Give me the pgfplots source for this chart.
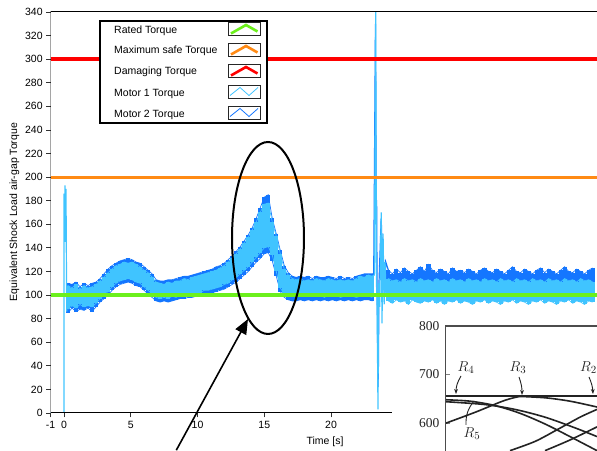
\documentclass[border=0pt]{standalone}
\usepackage{fontspec}
\setmainfont{Liberation Sans}
\newfontfamily\serif{Liberation Serif}
\usepackage{pgfplots}
\pgfplotsset{compat=1.18}
\usepackage{pgfplotstable}
\usetikzlibrary{arrows.meta,calc}

\definecolor{mlight}{RGB}{64,196,255}
\definecolor{mdark}{RGB}{20,118,255}
\definecolor{rgreen}{RGB}{108,240,28}
\definecolor{sorange}{RGB}{255,138,20}
\definecolor{dred}{RGB}{255,0,0}
\definecolor{inkgrey}{RGB}{35,35,35}

% t  l1(light low) u1(light up) l2(dark low) u2(dark up)
\pgfplotstableread{
t l1 u1 l2 u2
0.3 88 108 85 110
0.6 91 106 89 109
0.9 89 109 86 111
1.2 92 105 88 107
1.5 90 108 87 110
1.8 91 106 89 108
2.1 90 107 86 110
2.4 93 109 90 111
2.7 97 112 94 114
3.0 100 115 97 118
3.3 103 119 100 122
3.6 107 122 104 125
3.9 110 125 107 127
4.2 112 126 109 129
4.5 113 128 110 130
4.8 114 127 111 131
5.1 113 128 110 130
5.4 111 126 108 128
5.7 110 124 107 127
6.0 107 121 104 124
6.3 104 119 101 121
6.6 101 115 98 118
6.9 98 111 95 113
7.2 97 110 94 112
7.5 98 109 95 112
7.8 97 111 94 113
8.1 99 110 95 113
8.4 98 112 96 114
8.7 100 112 97 115
9.0 100 114 97 116
9.3 101 113 98 116
9.6 101 115 98 117
9.9 102 116 99 118
10.2 102 117 99 119
10.5 104 118 101 120
10.8 104 119 101 121
11.1 105 120 102 122
11.4 106 121 103 124
11.7 107 123 104 125
12.0 109 125 105 127
12.3 110 128 107 130
12.6 113 131 109 133
12.9 115 135 111 137
13.2 118 139 114 141
13.5 121 144 117 146
13.8 124 149 120 151
14.1 128 155 124 157
14.4 132 162 128 165
14.7 136 170 131 174
15.0 140 177 135 183
15.3 141 178 136 185
15.6 134 162 129 165
15.9 120 150 116 152
16.2 106 135 103 138
16.5 101 122 98 125
16.8 99 117 96 119
17.1 99 114 95 116
17.4 100 113 95 115
17.7 99 114 96 116
18.0 100 112 95 115
18.3 99 113 96 116
18.6 100 112 95 114
18.9 99 114 96 116
19.2 100 113 95 115
19.5 98 112 96 115
19.8 100 114 95 116
20.1 99 113 96 115
20.4 100 112 95 114
20.7 98 113 96 116
21.0 99 112 95 114
21.3 100 113 96 115
21.6 99 112 95 114
21.9 98 114 96 116
22.2 99 116 95 117
22.5 100 115 96 118
22.8 99 117 96 118
23.1 98 116 95 118
}\pre

\pgfplotstableread{
t l1 u1 l2 u2
24.3 95 114 99 121
24.6 93 112 98 118
24.9 96 113 99 122
25.2 94 111 98 119
25.5 95 114 100 123
25.8 92 112 98 120
26.1 96 113 99 118
26.4 94 111 98 121
26.7 93 114 99 124
27.0 95 112 98 120
27.3 94 113 99 126
27.6 96 111 98 121
27.9 93 114 99 119
28.2 95 112 98 122
28.5 92 113 99 120
28.8 95 111 98 118
29.1 94 114 99 123
29.4 96 112 98 120
29.7 93 113 99 121
30.0 95 111 98 119
30.3 94 114 99 122
30.6 92 112 98 120
30.9 95 113 99 118
31.2 94 111 98 121
31.5 96 114 99 123
31.8 93 112 98 120
32.1 95 113 99 119
32.4 94 111 98 122
32.7 92 114 99 120
33.0 95 112 98 118
33.3 94 113 99 121
33.6 96 111 98 124
33.9 93 114 99 120
34.2 95 112 98 119
34.5 94 113 99 122
34.8 92 111 98 120
35.1 95 114 99 118
35.4 94 112 98 121
35.7 96 113 99 123
36.0 93 111 98 119
36.3 95 114 99 122
36.6 94 112 98 120
36.9 92 113 99 118
37.2 95 111 98 121
37.5 94 114 99 124
37.8 96 112 98 120
38.1 93 113 99 119
38.4 95 111 98 122
38.7 94 114 99 120
39.0 92 112 98 118
39.3 95 113 99 121
39.6 94 111 98 123
}\post

\pgfplotsset{
  band/.style={draw=none, mark=none, forget plot,
    error bars/.cd, y dir=minus, y explicit, error mark=none,
    error bar style={draw=#1, line width=4.1bp}},
  edge/.style={draw=#1, mark=none, line width=0.7bp, forget plot},
}

\begin{document}
\begin{tikzpicture}
\begin{axis}[
  name=main, scale only axis,
  width=546.35bp, height=401bp,
  xmin=-1, xmax=39.925, ymin=0, ymax=340,
  axis line style={draw=none},
  xtick={-1,0,5,10,15,20}, ytick={0,20,...,340},
  tick align=outside, xtick pos=left, ytick pos=left,
  major tick length=4.5bp,
  tick style={black!80, line width=0.8bp},
  tick label style={font=\fontsize{10.5bp}{12bp}\selectfont},
  /pgf/number format/assume math mode=true,
  clip=true,
]
% Motor 2 (dark) band
\addplot[band=mdark] table[x=t, y=u2, y error minus expr=\thisrow{u2}-\thisrow{l2}]{\pre};
\addplot[band=mdark] table[x=t, y=u2, y error minus expr=\thisrow{u2}-\thisrow{l2}]{\post};
\addplot[edge=mdark] table[x=t, y=u2]{\pre};
\addplot[edge=mdark] table[x=t, y=l2]{\pre};
\addplot[edge=mdark] table[x=t, y=u2]{\post};
\addplot[edge=mdark] table[x=t, y=l2]{\post};
% Motor 2 event
\addplot[mdark, line width=1.2bp] coordinates {(23.1,118)(23.2,118)(23.33,330)(23.38,186)(23.42,175)(23.45,110)(23.52,22)(23.55,39)(23.6,112)(23.76,165)(23.8,150)(23.9,140)(24.0,100)(24.1,128)(24.3,121)};
% Motor 1 (light) band
\addplot[band=mlight] table[x=t, y=u1, y error minus expr=\thisrow{u1}-\thisrow{l1}]{\pre};
\addplot[band=mlight] table[x=t, y=u1, y error minus expr=\thisrow{u1}-\thisrow{l1}]{\post};
\addplot[edge=mlight] table[x=t, y=u1]{\pre};
\addplot[edge=mlight] table[x=t, y=l1]{\pre};
\addplot[edge=mlight] table[x=t, y=u1]{\post};
\addplot[edge=mlight] table[x=t, y=l1]{\post};
% Motor 1 start and event
\addplot[mlight, line width=1.2bp] coordinates {(-1,0)(0,0)(0,186)(0.05,145)(0.08,193)(0.12,145)(0.15,190)(0.2,86)(0.3,108)};
\addplot[mlight, line width=1.2bp] coordinates {(23.1,116)(23.25,117)(23.35,340)(23.4,112)(23.45,95)(23.52,3)(23.56,110)(23.65,90)(23.76,170)(23.82,76)(23.9,152)(23.98,92)(24.05,128)(24.12,100)(24.3,114)};
% Thresholds
\addplot[rgreen, line width=3.6bp] coordinates {(-1,100)(39.925,100)};
\addplot[sorange, line width=3bp] coordinates {(-1,200)(39.925,200)};
\addplot[dred, line width=3.6bp] coordinates {(-1,300)(39.925,300)};
\draw[black, line width=1bp] (rel axis cs:1,0) -- (rel axis cs:0,0) -- (rel axis cs:0,1) -- (rel axis cs:1,1);
\coordinate (P0) at (rel axis cs:0,0);
\end{axis}

\begin{scope}[shift={(P0)}, xshift=-50.65bp, yshift=-38bp, x=1bp, y=1bp]
% picture frame (sets the page size)
\path (0,0) rectangle (597,451);
% axis titles
\node[rotate=90, font=\fontsize{10.5bp}{12bp}\selectfont] at (14.5,239) {Equivalent Shock Load air-gap Torque};
\node[font=\fontsize{10.5bp}{12bp}\selectfont] at (325,9) {Time [s]};

% legend
\draw[line width=2bp, fill=white] (100,430) rectangle (267,328);
\foreach \yy/\iy/\txt in {420.3/422/Rated Torque, 400/401/Maximum safe Torque, 379/380/Damaging Torque, 357.5/359.5/Motor 1 Torque, 336.5/338.5/Motor 2 Torque}{
  \node[anchor=west, inner sep=0pt, font=\fontsize{10.5bp}{12bp}\selectfont] at (114,\yy) {\txt};
  \draw[black!85, line width=0.8bp, fill=white] (228,\iy-6.5) rectangle (260,\iy+6.5);
}
\draw[rgreen, line width=2.6bp] (231,422-4.5) -- (246,422+4) -- (257.5,422-2.5);
\draw[sorange, line width=2.6bp] (231,401-4.5) -- (246,401+4) -- (257.5,401-2.5);
\draw[dred, line width=2.6bp] (231,380-4.5) -- (246,380+4) -- (257.5,380-2.5);
\draw[mlight, line width=0.8bp] (230,359.5-4) -- (240,359.5+4) -- (249,359.5-4) -- (258,359.5+4);
\draw[mdark, line width=0.8bp] (230,338.5-4) -- (240,338.5+4) -- (249,338.5-4) -- (258,338.5+4);

% annotation ellipse and arrow
\draw[black, line width=2bp] (268,213) ellipse [x radius=36, y radius=96];
\draw[black, line width=1.6bp, -{Triangle[length=15bp, width=12bp]}] (176.3,0.8) -- (248,132);

% inset background
\fill[white] (392,0) rectangle (597,141);
\node[text=inkgrey, font=\fontsize{15bp}{17bp}\selectfont] at (466,83) {$R_4$};
\node[text=inkgrey, font=\fontsize{15bp}{17bp}\selectfont] at (518,83) {$R_3$};
\node[text=inkgrey, font=\fontsize{15bp}{17bp}\selectfont, anchor=east, inner sep=0pt] at (597,83) {$R_2$};
\node[text=inkgrey, font=\fontsize{15bp}{17bp}\selectfont] at (472,17) {$R_5$};
\draw[inkgrey, line width=0.9bp, -{Stealth[length=5bp]}] (461,75) to[bend right=15] (456,57);
\draw[inkgrey, line width=0.9bp, -{Stealth[length=5bp]}] (519,74) to[bend left=10] (522,56);
\draw[inkgrey, line width=0.9bp, -{Stealth[length=5bp]}] (589,74) to[bend left=10] (593,57);
\draw[inkgrey, line width=0.9bp] (466,26) to[bend left=20] (474,50);
\end{scope}

\begin{axis}[
  at={($(P0)+(394.35bp,-38bp)$)}, anchor=south west, scale only axis,
  width=152bp, height=125bp,
  xmin=0, xmax=152, ymin=542.3, ymax=800,
  axis line style={draw=none},
  xtick=\empty, ytick={600,700,800},
  ytick pos=left, tick align=inside, major tick length=5bp,
  tick style={black!50, line width=0.8bp},
  yticklabel style={font=\serif\fontsize{13.5bp}{15bp}\selectfont, text=inkgrey, xshift=-2bp},
  /pgf/number format/assume math mode=true,
  clip=true,
]
\addplot[inkgrey, line width=2.2bp] coordinates {(0,656)(152,656)};
\addplot[inkgrey, line width=1.6bp, smooth] coordinates {(0,599)(30,622)(55,643)(65,650)(75,655)};
\addplot[inkgrey, line width=1.6bp, smooth] coordinates {(0,648)(25,645)(50,636)(75,620)(100,598)(125,572)(152,543)};
\addplot[inkgrey, line width=1.6bp, smooth] coordinates {(0,644)(40,638)(70,628)(100,612)(130,590)(152,572)};
\addplot[inkgrey, line width=1.6bp, smooth] coordinates {(72,655)(100,652)(125,645)(152,633)};
\addplot[inkgrey, line width=1.6bp, smooth] coordinates {(65,543)(90,562)(112,586)(135,612)(152,628)};
\addplot[inkgrey, line width=1.6bp, smooth] coordinates {(100,543)(125,565)(152,592)};
\draw[black!70, line width=1.3bp] (rel axis cs:0,0) -- (rel axis cs:0,1) -- (rel axis cs:1,1);
\end{axis}
\end{tikzpicture}
\end{document}
